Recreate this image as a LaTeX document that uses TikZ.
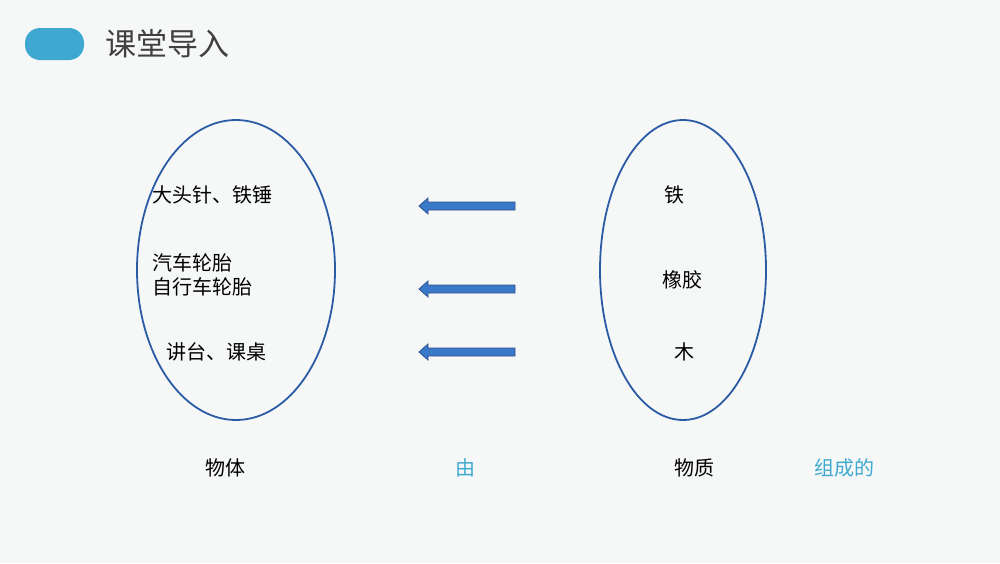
\documentclass[tikz,border=0pt]{standalone}
\usepackage{fontspec}
\usetikzlibrary{shapes.geometric}
\newfontfamily\cjk{Noto Sans CJK SC}
\definecolor{bg}{HTML}{F6F8F8}
\definecolor{ell}{HTML}{2A5BA4}
\definecolor{arr}{HTML}{3A78C8}
\definecolor{arrd}{HTML}{2F528F}
\definecolor{cyan}{HTML}{3FA8D0}
\definecolor{tit}{HTML}{404040}
\begin{document}
\begin{tikzpicture}[x=1pt,y=-1pt,
  txt/.style={font=\cjk\fontsize{20}{24}\selectfont,text=black,inner sep=0pt},
  ctxt/.style={txt,text=cyan},
  ring/.style={draw=ell,line width=1.8pt},
  barrow/.style={fill=arr,draw=arrd,line width=0.8pt}]
\fill[bg] (0,0) rectangle (1000,563);
\useasboundingbox (0,0) rectangle (1000,563);
\fill[cyan,rounded corners=15pt] (25,28) rectangle (84,60);
\node[font=\cjk\fontsize{31}{36}\selectfont,text=tit,anchor=west,inner sep=0pt] (title) at (105,44) {课堂导入};
\node[ring,ellipse,minimum width=198,minimum height=300,inner sep=0pt] (L) at (236,270) {};
\node[ring,ellipse,minimum width=166,minimum height=300,inner sep=0pt] (R) at (683,270) {};
\node[txt,anchor=west] (a1) at (152,195) {大头针、铁锤};
\node[txt,anchor=west,align=left] (a2) at (152,275) {汽车轮胎\\自行车轮胎};
\node[txt,anchor=west] (a3) at (166,352) {讲台、课桌};
\node[txt] (b1) at (674,195) {铁};
\node[txt] (b2) at (682,280) {橡胶};
\node[txt] (b3) at (684,352) {木};
\node[txt] (c1) at (225,468) {物体};
\node[ctxt] (c2) at (465,468) {由};
\node[txt] (c3) at (694,468) {物质};
\node[ctxt] (c4) at (844,468) {组成的};
\foreach \y in {206,289,352}{
  \draw[barrow] (515,\y-4) -- (428,\y-4) -- (428,\y-8) -- (419,\y) -- (428,\y+8) -- (428,\y+4) -- (515,\y+4) -- cycle;
}
\end{tikzpicture}
\end{document}
